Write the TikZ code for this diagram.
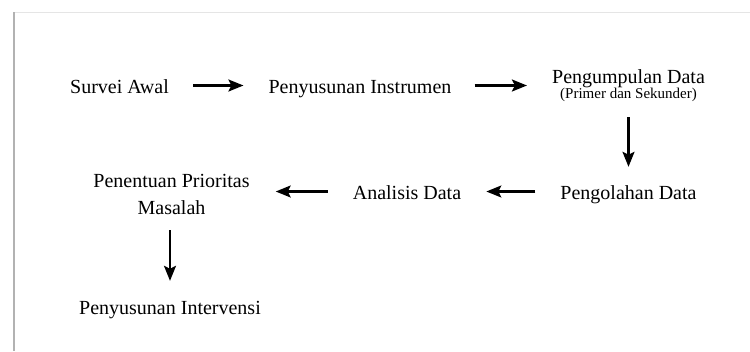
\documentclass[tikz,border=0pt]{standalone}
\usepackage{fontspec}
\setmainfont{Liberation Serif}
\usetikzlibrary{arrows.meta}

\begin{document}
\begin{tikzpicture}[x=1pt,y=-1pt,
        langkah/.style={inner sep=0pt,anchor=base,font=\fontsize{20}{24}\selectfont,text height=18pt,text depth=3pt},
        duabaris/.style={inner sep=0pt,anchor=base,align=center,font=\fontsize{20}{27}\selectfont},
        panah/.style={-{Stealth[length=15pt,width=12pt,inset=3pt]},line width=2.2pt}]
        \useasboundingbox[fill=white] (0,0) rectangle (750,351);
        \draw[gray!20,line width=1pt] (13,12) -- (750,12);
        \draw[gray!60,line width=2pt] (13.5,12) -- (13.5,351);

        \node[langkah] (survei) at (119.5,93) {Survei Awal};
        \node[langkah] (instr) at (360,93) {Penyusunan Instrumen};
        \node[duabaris] (kumpul) at (628.5,98) {Pengumpulan Data\\[-12pt]{\fontsize{15}{15}\selectfont (Primer dan Sekunder)}};

        \node[langkah] (olah) at (628.5,199) {Pengolahan Data};
        \node[langkah] (analisis) at (407,199) {Analisis Data};
        \node[duabaris] (tentu) at (171.5,214) {Penentuan Prioritas\\Masalah};

        \node[langkah] (intervensi) at (170,314) {Penyusunan Intervensi};

        \draw[panah,shorten <=24pt,shorten >=25pt] (survei.east) -- (instr.west);
        \draw[panah,shorten <=23pt,shorten >=25pt] (instr.east) -- (instr.east -| kumpul.west);
        \draw[panah,shorten <=16pt,shorten >=14pt] (kumpul.south) -- (olah.north);
        \draw[panah,shorten <=25pt,shorten >=25pt] (olah.west) -- (analisis.east);
        \draw[panah,shorten <=25pt,shorten >=26pt] (analisis.west) -- (analisis.west -| tentu.east);
        \draw[panah,shorten <=16pt,shorten >=15pt] (intervensi.north |- tentu.south) -- (intervensi.north);

    \end{tikzpicture}
\end{document}
